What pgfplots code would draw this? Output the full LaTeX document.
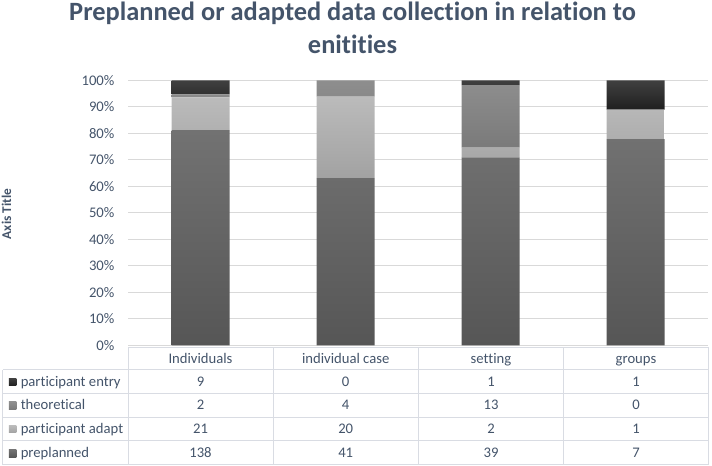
\documentclass[border=0pt]{standalone}
\usepackage{pgfplots}
\usepackage{pgfplotstable}
\pgfplotsset{compat=1.18}
\usepackage{fontspec}
\setmainfont{Carlito}[Ligatures=CommonOff]
\definecolor{txt}{HTML}{44546A}
\definecolor{gridc}{HTML}{D9D9D9}
\definecolor{tabc}{HTML}{D9DCE3}
\definecolor{entT}{HTML}{404040}\definecolor{entB}{HTML}{1F1F1F}
\definecolor{theT}{HTML}{8E8E8E}\definecolor{theB}{HTML}{7A7A7A}
\definecolor{adaT}{HTML}{BBBBBB}\definecolor{adaB}{HTML}{A2A2A2}
\definecolor{preT}{HTML}{727272}\definecolor{preB}{HTML}{565656}

\pgfplotstableread{
x pre adapt theo entry
0 81.18 12.35 1.18 5.29
1 63.08 30.77 6.15 0
2 70.91 3.64 23.64 1.82
3 77.78 11.11 0 11.11
}\pctdata

\begin{document}
\begin{tikzpicture}
\begin{axis}[
  at={(0,0)}, anchor=south west, scale only axis,
  width=435pt, height=198.75pt,
  xmin=-0.5, xmax=3.5, ymin=0, ymax=100,
  ybar stacked, bar width=43.5pt,
  axis line style={draw=none},
  tick style={draw=none},
  xtick=\empty,
  ytick={0,10,...,100},
  yticklabel={\pgfmathprintnumber{\tick}\%},
  /pgf/number format/assume math mode=true,
  yticklabel style={font=\fontsize{11}{13}\selectfont, text=txt, inner sep=0pt, xshift=-10pt},
  ymajorgrids, grid style={gridc, line width=0.75pt},
  clip=false,
]
\addplot[draw=none, top color=preT, bottom color=preB] table[x=x, y=pre] {\pctdata};
\addplot[draw=none, top color=adaT, bottom color=adaB] table[x=x, y=adapt] {\pctdata};
\addplot[draw=none, top color=theT, bottom color=theB] table[x=x, y=theo] {\pctdata};
\addplot[draw=none, top color=entT, bottom color=entB] table[x=x, y=entry] {\pctdata};
\end{axis}
\begin{scope}[shift={(-96pt,258.975pt)}, x=0.75pt, y=-0.75pt]
\useasboundingbox (0,0) rectangle (712,466);
% title
\node[anchor=base, font=\fontsize{19.8}{23}\selectfont\bfseries, text=txt, inner sep=0pt] at (352.5,21) {Preplanned or adapted data collection in relation to};
\node[anchor=base, font=\fontsize{19.8}{23}\selectfont\bfseries, text=txt, inner sep=0pt] at (352.5,54) {enitities};
% axis title
\node[rotate=90, font=\fontsize{10}{12}\selectfont\bfseries, text=txt, inner sep=0pt] at (6.5,214) {Axis Title};
% table lines
\draw[tabc, line width=0.75pt] (128,347.3) -- (708,347.3);
\draw[tabc, line width=0.75pt] (3,370) -- (708,370);
\foreach \yy in {393.3,417.7,441,465} {\draw[tabc, line width=0.75pt] (3,\yy) -- (708,\yy);}
\draw[tabc, line width=0.75pt] (3,370) -- (3,465);
\foreach \xx in {128,273,418.5,563.5,708} {\draw[tabc, line width=0.75pt] (\xx,347.3) -- (\xx,465);}
% header
\tikzset{tt/.style={font=\fontsize{11}{13}\selectfont, text=txt, inner sep=0pt, anchor=base}}
\node[tt] at (200.5,363.3) {Individuals};
\node[tt] at (345.7,363.3) {individual case};
\node[tt] at (491,363.3) {setting};
\node[tt] at (636,363.3) {groups};
% legend squares and labels
\fill[top color=entT, bottom color=entB] (9,378.5) rectangle (16.5,386);
\fill[top color=theT, bottom color=theB] (9,402) rectangle (16.5,409.5);
\fill[top color=adaT, bottom color=adaB] (9,425.5) rectangle (16.5,433);
\fill[top color=preT, bottom color=preB] (9,449.8) rectangle (16.5,457.3);
\node[tt, anchor=base west] at (20.5,386.7) {participant entry};
\node[tt, anchor=base west] at (20.5,410) {theoretical};
\node[tt, anchor=base west] at (20.5,433.3) {participant adapt};
\node[tt, anchor=base west] at (20.5,457.7) {preplanned};
% values
\node[tt] at (200.5,386.7) {9};   \node[tt] at (345.7,386.7) {0};  \node[tt] at (491,386.7) {1};  \node[tt] at (636,386.7) {1};
\node[tt] at (200.5,410) {2};     \node[tt] at (345.7,410) {4};    \node[tt] at (491,410) {13};   \node[tt] at (636,410) {0};
\node[tt] at (200.5,433.3) {21};  \node[tt] at (345.7,433.3) {20}; \node[tt] at (491,433.3) {2};  \node[tt] at (636,433.3) {1};
\node[tt] at (200.5,457.7) {138}; \node[tt] at (345.7,457.7) {41};   \node[tt] at (491,457.7) {39};   \node[tt] at (636,457.7) {7};
\end{scope}
\end{tikzpicture}
\end{document}
